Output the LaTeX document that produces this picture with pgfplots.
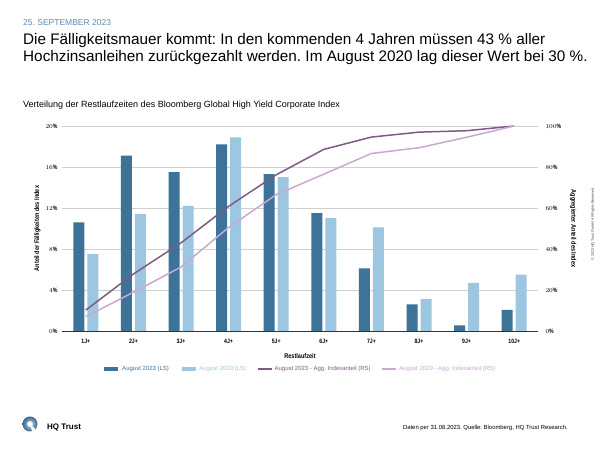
\documentclass[border=0pt]{standalone}
\usepackage{pgfplots}
\pgfplotsset{compat=1.18}
\usepackage{fontspec}
\setmainfont{Liberation Sans}
\newfontfamily\condf{Liberation Sans}[FakeStretch=0.82]
\definecolor{darkbar}{HTML}{3D7299}
\definecolor{lightbar}{HTML}{9DC7E0}
\definecolor{darkline}{HTML}{7D5B83}
\definecolor{lightline}{HTML}{CBA8D2}
\definecolor{datecol}{HTML}{5A8AB0}
\definecolor{gridc}{HTML}{D0D0D0}
\frenchspacing
\begin{document}
\begin{tikzpicture}[x=1pt,y=1pt]
\path[fill=white] (0,0) rectangle (600,450);
% header
\node[anchor=west,text=datecol,font=\fontsize{8.5}{10}\selectfont,inner sep=0] at (23,427) {25. SEPTEMBER 2023};
\node[anchor=west,font=\fontsize{15.3}{18}\selectfont,inner sep=0] at (23,409) {Die Fälligkeitsmauer kommt: In den kommenden 4 Jahren müssen 43 \% aller};
\node[anchor=west,font=\fontsize{15.3}{18}\selectfont,inner sep=0] at (23,392.5) {Hochzinsanleihen zurückgezahlt werden. Im August 2020 lag dieser Wert bei 30 \%.};
\node[anchor=west,font=\fontsize{9}{11}\selectfont,inner sep=0] at (23,345) {Verteilung der Restlaufzeiten des Bloomberg Global High Yield Corporate Index};
% footer
\node[anchor=east,font=\fontsize{5.9}{7}\selectfont,inner sep=0] at (568,22) {Daten per 31.08.2023. Quelle: Bloomberg, HQ Trust Research.};
\shade[inner color=lightbar!60,outer color=darkbar!90!black] (30,26) circle (7.5);
\fill[white] (30,26) -- (38,18) -- (32.5,17) -- cycle;
\fill[white] (30,26) circle (2.8);
\node[anchor=west,font=\bfseries\fontsize{8}{9}\selectfont,inner sep=0] at (47,23) {HQ Trust};
\node[rotate=90,text=black!75,font=\fontsize{3.6}{4}\selectfont,inner sep=0] at (593,226) {© 2023 HQ Trust GmbH. All Rights Reserved.};
% bar axis
\begin{axis}[
  at={(62pt,119pt)}, anchor=south west,
  scale only axis, width=476pt, height=205pt,
  xmin=0.5, xmax=10.5, ymin=0, ymax=20,
  ybar=3pt, bar width=11pt,
  axis x line*=bottom, axis y line*=left,
  y axis line style={draw=none},
  x axis line style={draw=black!80, line width=0.7pt, -},
  xtick={1,...,10},
  xticklabels={1J+,2J+,3J+,4J+,5J+,6J+,7J+,8J+,9J+,10J+},
  major x tick style={draw=none},
  extra x ticks={0.5,1.5,...,10.5}, extra x tick labels={},
  extra x tick style={grid=none, tick align=outside, major tick length=3pt, tick style={draw=black!80,line width=0.6pt}},
  ytick={0,4,...,20},
  yticklabel={\pgfmathprintnumber{\tick}\%},
  major y tick style={draw=none},
  ymajorgrids, grid style={gridc, line width=0.6pt},
  ticklabel style={font=\condf\bfseries\fontsize{6.3}{7}\selectfont},
  yticklabel style={xshift=-1pt},
  xlabel={Restlaufzeit},
  xlabel style={font=\condf\bfseries\fontsize{6.8}{8}\selectfont, yshift=4pt},
  ylabel={Anteil der Fälligkeiten des Index},
  ylabel style={font=\condf\bfseries\fontsize{6.8}{8}\selectfont, yshift=-2pt},
]
\addplot[fill=darkbar, draw=none] coordinates {(1,10.6) (2,17.1) (3,15.5) (4,18.2) (5,15.3) (6,11.5) (7,6.1) (8,2.6) (9,0.55) (10,2.05)};
\addplot[fill=lightbar, draw=none] coordinates {(1,7.5) (2,11.4) (3,12.2) (4,18.9) (5,15.0) (6,11.0) (7,10.1) (8,3.1) (9,4.7) (10,5.5)};
\end{axis}
% line axis
\begin{axis}[
  at={(62pt,119pt)}, anchor=south west,
  scale only axis, width=476pt, height=205pt,
  xmin=0.5, xmax=10.5, ymin=0, ymax=100,
  axis x line=none, axis y line*=right,
  y axis line style={draw=none},
  ytick={0,20,...,100},
  yticklabel={\pgfmathprintnumber{\tick}\%},
  major y tick style={draw=none},
  ticklabel style={font=\condf\bfseries\fontsize{6.3}{7}\selectfont},
  yticklabel style={xshift=4pt},
  ylabel={Aggregierter Anteil des Index},
  ylabel style={font=\condf\bfseries\fontsize{6.8}{8}\selectfont, rotate=180, yshift=2pt},
  legend style={at={(0.5,-0.185)}, anchor=center, draw=none, fill=none,
    legend columns=4, font=\fontsize{6}{7}\selectfont,
    /tikz/every even column/.append style={column sep=9pt}},
  legend image code/.code={\draw[#1] (0pt,0pt) -- (14pt,0pt);},
]
\addlegendimage{darkbar, line width=3.5pt}
\addlegendentry{\textcolor{darkbar}{August 2023 (LS)}}
\addlegendimage{lightbar, line width=3.5pt}
\addlegendentry{\textcolor{lightbar}{August 2020 (LS)}}
\addplot[darkline, line width=1.5pt, line join=round, mark=none] coordinates {(1,10.2) (2,27.8) (3,43.0) (4,60.8) (5,76.2) (6,88.6) (7,94.6) (8,97.0) (9,97.7) (10,100)};
\addlegendentry{\textcolor{darkline}{August 2023 - Agg. Indexanteil (RS)}}
\addplot[lightline, line width=1.5pt, line join=round, mark=none] coordinates {(1,7.0) (2,18.9) (3,31.2) (4,50.5) (5,66.5) (6,76.5) (7,86.6) (8,89.4) (9,94.5) (10,100)};
\addlegendentry{\textcolor{lightline}{August 2020 - Agg. Indexanteil (RS)}}
\end{axis}
\end{tikzpicture}
\end{document}
